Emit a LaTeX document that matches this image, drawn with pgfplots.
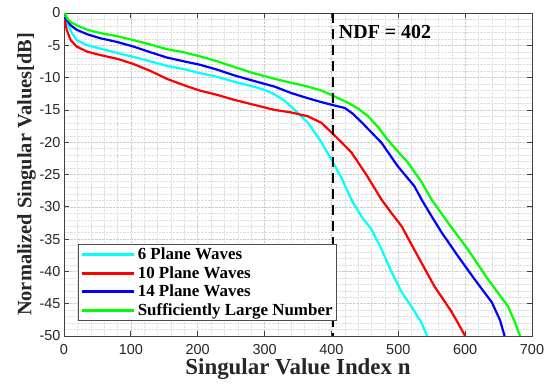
\documentclass[border=0pt]{standalone}
\usepackage{pgfplots}
\pgfplotsset{compat=1.18}
\usepackage{fontspec}
\setmainfont{Liberation Serif}
\newfontfamily\ticksf{Liberation Sans}
\definecolor{mycyan}{RGB}{0,255,255}
\definecolor{myred}{RGB}{255,0,0}
\definecolor{myblue}{RGB}{0,0,255}
\definecolor{mygreen}{RGB}{0,255,0}
\definecolor{tickgray}{RGB}{38,38,38}
\begin{document}
\begin{tikzpicture}
\begin{axis}[
  scale only axis,
  width=468bp, height=323bp,
  xmin=0, xmax=700, ymin=-50, ymax=0,
  xtick={0,100,...,700}, ytick={-50,-45,...,0},
  minor x tick num=4, minor y tick num=4,
  grid=both,
  major grid style={gray!40, densely dotted, line width=0.5pt},
  minor grid style={gray!25, densely dotted, line width=0.4pt},
  tick align=inside,
  major tick length=5bp, minor tick length=0pt,
  axis line style={black!75, line width=0.9pt},
  every tick/.style={black!75, line width=0.8pt},
  tick label style={font=\ticksf\fontsize{14.5}{16}\selectfont, text=tickgray},
  xticklabel style={yshift=-5bp},
  /pgf/number format/assume math mode=true,
  /pgf/number format/1000 sep={},
  xlabel={\textbf{Singular Value Index n}},
  ylabel={\textbf{Normalized Singular Values[dB]}},
  xlabel style={font=\fontsize{23}{25}\selectfont, text=tickgray, yshift=3bp},
  ylabel style={font=\fontsize{20.5}{22}\selectfont, text=tickgray, yshift=-3bp},
  legend style={at={(rel axis cs:0.03,0.046)}, anchor=south west,
    font=\bfseries\fontsize{17}{17}\selectfont, draw=black!70, line width=0.7pt,
    row sep=1.2pt, inner sep=2pt},
  legend cell align=left,
  legend image code/.code={\draw[#1, line width=3pt] (0cm,0cm) -- (1.85cm,0cm);},
  every axis plot/.append style={line width=2.2pt},
]
\coordinate (sw) at (rel axis cs:0,0);
\coordinate (ne) at (rel axis cs:1,1);
\addplot[mycyan] coordinates {
(1,-0.5) (5,-1.5) (10,-2.8) (19,-4.2) (35,-5.0) (54,-5.5) (80,-6.2) (104,-6.8) (130,-7.5) (154,-8.2) (180,-8.7) (203,-9.3) (230,-9.9) (253,-10.6) (280,-11.3) (300,-11.9) (315,-12.6) (330,-13.6) (345,-15.0) (365,-17.0) (385,-20.0) (400,-22.7) (415,-25.5) (430,-28.9) (445,-31.5) (460,-33.5) (475,-36.6) (490,-40.1) (505,-43.2) (520,-45.5) (535,-48.0) (543,-50)
};
\addlegendentry{6 Plane Waves}
\addplot[myred] coordinates {
(1,-1.0) (4,-2.6) (10,-4.2) (19,-5.2) (35,-6.0) (54,-6.5) (80,-7.1) (104,-7.9) (130,-9.0) (154,-10.2) (180,-11.2) (203,-12.0) (230,-12.7) (253,-13.4) (280,-14.1) (315,-15.0) (340,-15.4) (365,-16.0) (385,-17.0) (400,-18.5) (415,-20.0) (430,-21.6) (452,-25.0) (475,-28.9) (490,-31.0) (505,-33.0) (529,-37.6) (554,-42.3) (580,-46.3) (592,-48.5) (600,-50)
};
\addlegendentry{10 Plane Waves}
\addplot[myblue] coordinates {
(1,-0.6) (4,-1.1) (10,-1.9) (19,-2.6) (35,-3.3) (54,-3.9) (80,-4.5) (104,-5.2) (130,-6.1) (154,-6.9) (180,-7.5) (203,-8.0) (230,-8.8) (253,-9.6) (280,-10.4) (315,-11.4) (340,-12.4) (365,-13.2) (385,-13.8) (400,-14.2) (420,-14.7) (432,-15.6) (446,-17.0) (460,-18.5) (475,-20.1) (499,-23.7) (524,-26.8) (535,-28.9) (550,-31.5) (565,-34.0) (589,-37.6) (614,-41.2) (640,-44.8) (652,-47.5) (659,-50)
};
\addlegendentry{14 Plane Waves}
\addplot[mygreen] coordinates {
(1,0) (5,-0.9) (10,-1.4) (19,-1.9) (35,-2.6) (54,-3.1) (80,-3.6) (104,-4.2) (130,-4.9) (154,-5.6) (180,-6.1) (203,-6.7) (230,-7.5) (253,-8.3) (280,-9.2) (315,-10.2) (340,-10.8) (365,-11.4) (385,-12.0) (400,-12.7) (425,-13.9) (440,-14.8) (455,-16.0) (470,-17.7) (484,-19.6) (500,-21.5) (514,-23.1) (535,-26.2) (550,-28.9) (574,-32.4) (604,-36.6) (634,-41.2) (664,-45.4) (675,-48.0) (682,-50)
};
\addlegendentry{Sufficiently Large Number}
\addplot[black, line width=2.4pt, dash pattern=on 10bp off 6bp, forget plot] coordinates {(402,0) (402,-50)};
\node[anchor=west, font=\bfseries\fontsize{20}{22}\selectfont, inner sep=0pt] at (axis cs:411,-2.9) {NDF = 402};
\end{axis}
\pgfresetboundingbox
\path ([xshift=-64bp,yshift=-54bp]sw) rectangle ([xshift=18bp,yshift=13bp]ne);
\end{tikzpicture}
\end{document}
